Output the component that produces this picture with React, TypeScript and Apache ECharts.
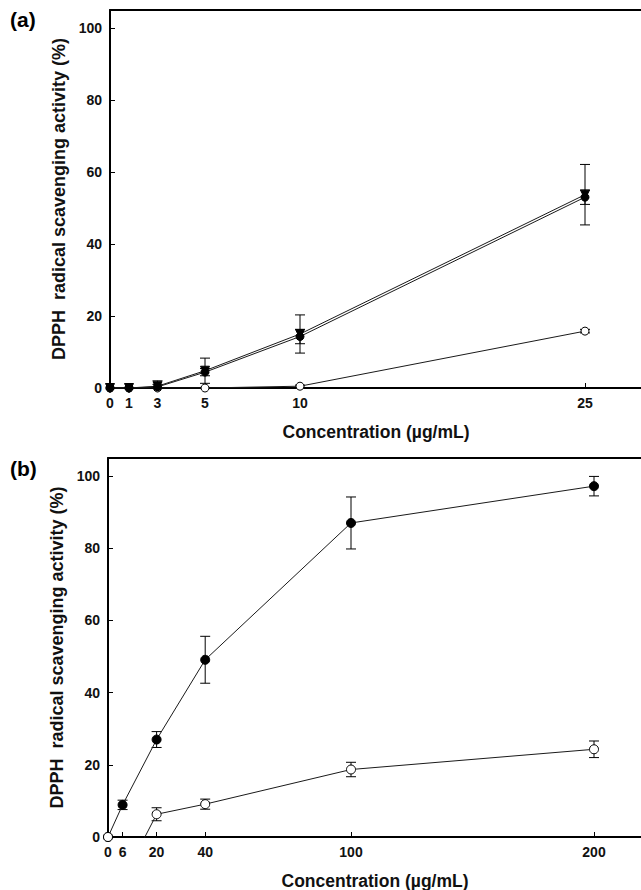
import React, { useEffect, useRef } from "react";
import * as echarts from "echarts";

// Panel (a): concentrations 0–25 µg/mL
const xPosA = [0, 1, 2.5, 5, 10, 25];
const xLabelsA = ["0", "1", "3", "5", "10", "25"];
const a1Mean = [0, 0, 0.5, 4.8, 15.0, 53.7];
const a1Err = [0, 0, 1.5, 3.5, 5.3, 8.4];
const a2Mean = [0, 0, 0.3, 4.4, 14.3, 53.0];
const a2Err = [0, 0, 0.7, 1.0, 2.0, 2.0];
const a3Mean = [0, 0, 0, 0, 0.5, 15.8];
const a3Err = [0, 0, 0, 0, 0.3, 0.5];

// Panel (b): concentrations 0–200 µg/mL
const xPosB = [0, 6, 20, 40, 100, 200];
const xLabelsB = ["0", "6", "20", "40", "100", "200"];
const b1Mean = [0, 8.9, 27.0, 49.1, 87.0, 97.2];
const b1Err = [0, 1.3, 2.2, 6.5, 7.2, 2.7];
const b2Mean = [0, -12, 6.3, 9.1, 18.7, 24.3];
const b2Err = [0, 0, 1.8, 1.4, 2.0, 2.3];

const yTicks = [0, 20, 40, 60, 80, 100];

const FONT = "'Liberation Sans', Arial, sans-serif";
const TXT = "#111";

function pts(xs: number[], ys: number[]) {
  return xs.map((x, i) => [x, ys[i]]);
}
function errs(xs: number[], ys: number[], es: number[]) {
  return xs
    .map((x, i) => [x, ys[i] - es[i], ys[i] + es[i]])
    .filter((d, i) => es[i] > 0);
}

function errSeries(data: number[][], idx: number) {
  return {
    type: "custom",
    xAxisIndex: idx,
    yAxisIndex: idx,
    clip: true,
    z: 1,
    encode: { x: 0, y: [1, 2] },
    data,
    renderItem: (params: any, api: any) => {
      const x = api.value(0);
      const lo = api.coord([x, api.value(1)]);
      const hi = api.coord([x, api.value(2)]);
      const w = 5;
      const st = { stroke: "#000", lineWidth: 1 };
      return {
        type: "group",
        children: [
          { type: "line", shape: { x1: lo[0], y1: lo[1], x2: hi[0], y2: hi[1] }, style: st },
          { type: "line", shape: { x1: hi[0] - w, y1: hi[1], x2: hi[0] + w, y2: hi[1] }, style: st },
          { type: "line", shape: { x1: lo[0] - w, y1: lo[1], x2: lo[0] + w, y2: lo[1] }, style: st },
        ],
      };
    },
  };
}

function lineSeries(data: number[][], idx: number, opts: any) {
  return {
    type: "line",
    xAxisIndex: idx,
    yAxisIndex: idx,
    data,
    clip: true,
    z: 3,
    symbol: opts.symbol || "circle",
    symbolSize: opts.size || 8,
    symbolRotate: opts.rotate || 0,
    lineStyle: { color: "#1a1a1a", width: 1 },
    itemStyle: {
      color: opts.fill,
      borderColor: "#000",
      borderWidth: 1,
    },
  };
}

function xAxisCfg(grid: number, max: number, ticks: number[], labels: string[], nameCenter: number) {
  return {
    type: "value",
    gridIndex: grid,
    min: 0,
    max,
    name: "Concentration (\u00b5g/mL)",
    nameLocation: "start",
    nameGap: -nameCenter,
    nameTextStyle: {
      fontFamily: FONT,
      fontWeight: "bold",
      fontSize: 17.5,
      color: TXT,
      align: "center",
      verticalAlign: "top",
      padding: [35, 0, 0, 0],
    },
    axisLine: { show: true, onZero: false, lineStyle: { color: "#000", width: 2 } },
    axisTick: { show: true, inside: true, length: 5, customValues: ticks, lineStyle: { color: "#000", width: 1 } },
    axisLabel: {
      show: true,
      customValues: ticks,
      margin: 8,
      fontFamily: FONT,
      fontWeight: "bold",
      fontSize: 14,
      color: TXT,
      formatter: (v: number) => {
        const i = ticks.indexOf(v);
        return i >= 0 ? labels[i] : "";
      },
    },
    splitLine: { show: false },
  };
}

function topAxisCfg(grid: number, max: number) {
  return {
    type: "value",
    gridIndex: grid,
    position: "top",
    min: 0,
    max,
    axisLine: { show: true, onZero: false, lineStyle: { color: "#000", width: 2 } },
    axisTick: { show: false },
    axisLabel: { show: false },
    splitLine: { show: false },
  };
}

function yAxisCfg(grid: number) {
  return {
    type: "value",
    gridIndex: grid,
    min: 0,
    max: 105,
    name: "DPPH  radical scavenging activity (%)",
    nameLocation: "middle",
    nameGap: 42,
    nameTextStyle: { fontFamily: FONT, fontWeight: "bold", fontSize: 18, color: TXT },
    axisLine: { show: true, onZero: false, lineStyle: { color: "#000", width: 2 } },
    axisTick: { show: true, inside: true, length: 5, customValues: yTicks, lineStyle: { color: "#000", width: 1 } },
    axisLabel: {
      show: true,
      customValues: yTicks,
      margin: 8,
      fontFamily: FONT,
      fontWeight: "bold",
      fontSize: 14,
      color: TXT,
    },
    splitLine: { show: false },
  };
}

export default function App() {
  const ref = useRef<HTMLDivElement>(null);
  useEffect(() => {
    if (!ref.current) return;
    document.documentElement.style.overflow = "hidden";
    document.body.style.overflow = "hidden";
    const chart = echarts.init(ref.current, null, { renderer: "svg" });
    const option: any = {
      animation: false,
      backgroundColor: "#fff",
      textStyle: { fontFamily: FONT },
      title: [
        { text: "(a)", left: 10, top: 9, padding: 0, textStyle: { fontFamily: FONT, fontWeight: "bold", fontSize: 21, color: "#000" } },
        { text: "(b)", left: 10, top: 458, padding: 0, textStyle: { fontFamily: FONT, fontWeight: "bold", fontSize: 21, color: "#000" } },
      ],
      grid: [
        { left: 110, top: 10, width: 570, height: 378 },
        { left: 108, top: 458, width: 583.2, height: 379 },
      ],
      xAxis: [
        xAxisCfg(0, 30, xPosA, xLabelsA, 266),
        xAxisCfg(1, 240, xPosB, xLabelsB, 267),
        topAxisCfg(0, 30),
        topAxisCfg(1, 240),
      ],
      yAxis: [yAxisCfg(0), yAxisCfg(1)],
      series: [
        errSeries(errs(xPosA, a3Mean, a3Err), 0),
        errSeries(errs(xPosA, a1Mean, a1Err), 0),
        errSeries(errs(xPosA, a2Mean, a2Err), 0),
        lineSeries(pts(xPosA, a3Mean), 0, { fill: "#fff", size: 8 }),
        lineSeries(pts(xPosA, a2Mean), 0, { fill: "#000", size: 8 }),
        lineSeries(pts(xPosA, a1Mean), 0, { fill: "#000", size: 9, symbol: "triangle", rotate: 180 }),
        errSeries(errs(xPosB, b2Mean, b2Err), 1),
        errSeries(errs(xPosB, b1Mean, b1Err), 1),
        lineSeries(pts(xPosB, b1Mean), 1, { fill: "#000", size: 9 }),
        lineSeries(pts(xPosB, b2Mean), 1, { fill: "#fff", size: 9 }),
      ],
    };
    chart.setOption(option);
    return () => chart.dispose();
  }, []);
  return (
    <div
      ref={ref}
      style={{ position: "absolute", left: 0, top: 0, width: 720, height: 890, overflow: "hidden" }}
    />
  );
}
